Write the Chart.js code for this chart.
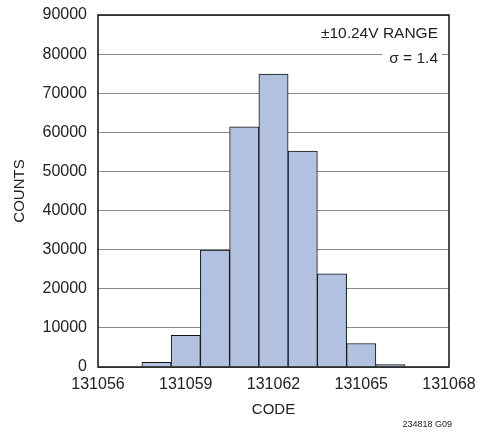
<!DOCTYPE html>
<html>
<head>
<meta charset="utf-8">
<script src="https://cdn.jsdelivr.net/npm/chart.js@4/dist/chart.umd.min.js"></script>
<style>
  html, body { margin: 0; padding: 0; background: #fff; }
  #wrap { width: 494px; height: 432px; }
</style>
</head>
<body>
<div id="wrap"><canvas id="c" width="494" height="432"></canvas></div>
<script>
// Histogram of output codes
const codes  = [131058, 131059, 131060, 131061, 131062, 131063, 131064, 131065, 131066];
const counts = [1200, 8100, 29900, 61400, 74900, 55200, 23800, 6000, 600];
const xTicks = [131056, 131059, 131062, 131065, 131068];
const yTicks = [0, 10000, 20000, 30000, 40000, 50000, 60000, 70000, 80000, 90000];
const noteLines = ['±10.24V RANGE', 'σ = 1.4'];
const xTitle = 'CODE';
const yTitle = 'COUNTS';
const figId = '234818 G09';

const FONT = '"Liberation Sans", Arial, sans-serif';

const frame = {
  id: 'frame',
  afterDatasetsDraw(chart) {
    const { ctx, chartArea: a } = chart;
    ctx.save();
    // plot border
    ctx.strokeStyle = '#111';
    ctx.lineWidth = 1.5;
    ctx.strokeRect(a.left, a.top, a.right - a.left, a.bottom - a.top);

    // annotation block, right aligned, with white backing over the grid
    ctx.font = '15.5px ' + FONT;
    ctx.textAlign = 'right';
    ctx.textBaseline = 'middle';
    const xr = a.right - 11;
    const ys = [a.top + 19, a.top + 44];
    noteLines.forEach((t, i) => {
      const w = ctx.measureText(t).width;
      ctx.fillStyle = '#fff';
      ctx.fillRect(xr - w - 7, ys[i] - 9, w + 11, 18);
    });
    ctx.fillStyle = '#222';
    noteLines.forEach((t, i) => ctx.fillText(t, xr, ys[i]));

    // axis titles
    ctx.textAlign = 'center';
    ctx.font = '15px ' + FONT;
    ctx.fillText(xTitle, (a.left + a.right) / 2, 410);
    ctx.save();
    ctx.translate(20, (a.top + a.bottom) / 2);
    ctx.rotate(-Math.PI / 2);
    ctx.fillText(yTitle, 0, 0);
    ctx.restore();

    // figure id
    ctx.font = '9px ' + FONT;
    ctx.textAlign = 'right';
    ctx.fillText(figId, 452, 425);
    ctx.restore();
  }
};

new Chart(document.getElementById('c'), {
  type: 'bar',
  data: {
    datasets: [{
      data: codes.map((c, i) => ({ x: c, y: counts[i] })),
      backgroundColor: '#b1c1df',
      borderColor: '#111',
      borderWidth: 1,
      barPercentage: 1,
      categoryPercentage: 1
    }]
  },
  options: {
    responsive: false,
    animation: false,
    devicePixelRatio: 1,
    layout: { padding: { top: 15, right: 45, bottom: 0, left: 0 } },
    plugins: { legend: { display: false }, tooltip: { enabled: false } },
    scales: {
      x: {
        type: 'linear',
        min: xTicks[0],
        max: xTicks[xTicks.length - 1],
        offset: false,
        grid: { display: false, drawTicks: false },
        border: { display: false },
        afterBuildTicks: s => { s.ticks = xTicks.map(v => ({ value: v })); },
        afterFit: s => { s.height = 65; },
        ticks: {
          color: '#222',
          font: { family: FONT, size: 16 },
          padding: 8,
          maxRotation: 0,
          autoSkip: false,
          callback: v => String(v)
        }
      },
      y: {
        min: 0,
        max: 90000,
        grid: { color: '#8a8a8a', lineWidth: 1, drawTicks: false },
        border: { display: false },
        afterBuildTicks: s => { s.ticks = yTicks.map(v => ({ value: v })); },
        afterFit: s => { s.width = 98; s.paddingTop = 0; s.paddingBottom = 0; },
        ticks: {
          color: '#222',
          font: { family: FONT, size: 16 },
          padding: 11,
          callback: v => String(v)
        }
      }
    }
  },
  plugins: [frame]
});
</script>
</body>
</html>
